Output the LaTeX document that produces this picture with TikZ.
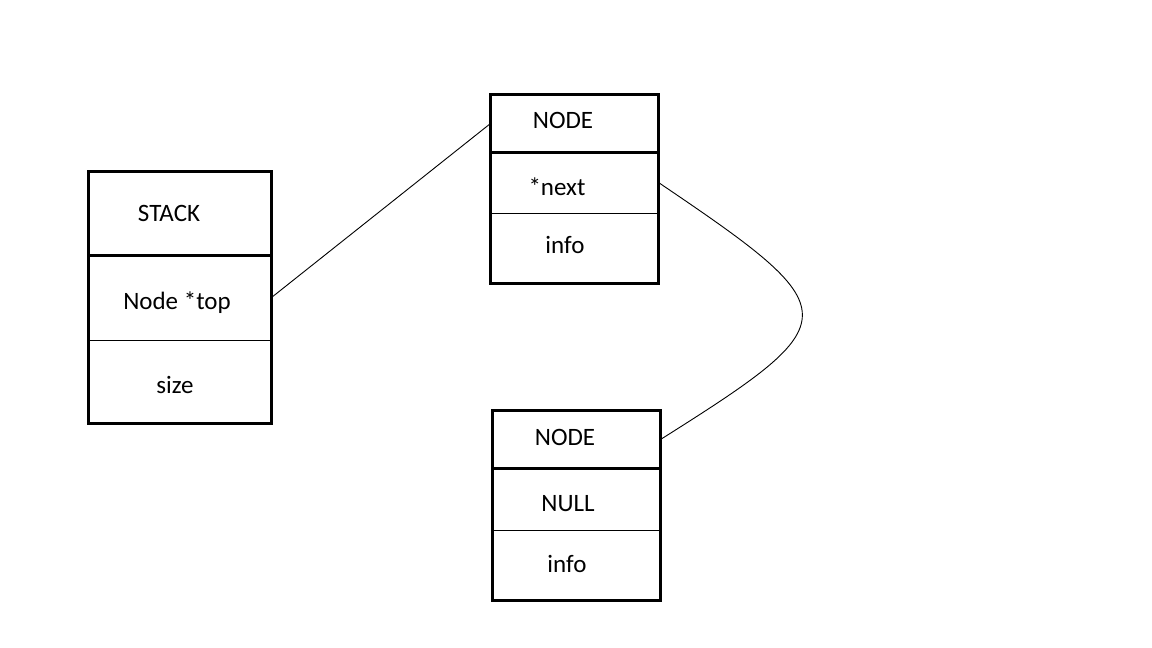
\documentclass[tikz,border=0pt]{standalone}
\usepackage{fontspec}
\setmainfont{Carlito}
\begin{document}
\begin{tikzpicture}[x=1pt,y=-1pt,
  field/.style={draw, line width=1pt, inner sep=0pt, minimum width=#1},
  txt/.style={inner sep=0pt, font=\fontsize{25}{28}\selectfont, text height=0.644em, text depth=0pt, yshift=-4pt},
  frame/.style={line width=3pt},
  link/.style={line width=0.9pt}]
\useasboundingbox[fill=white] (0,0) rectangle (1152,648);

% STACK record
\node[field=182, minimum height=83] (sthead) at (180,213.5) {};
\node[field=182, minimum height=85] (sttop)  at (180,297.5) {};
\node[field=182, minimum height=83] (stsize) at (180,381.5) {};
\draw[frame] (sthead.north west) rectangle (sthead.south east);
\draw[frame] (sthead.north west) rectangle (stsize.south east);
\node[txt] (tstack) at (169,214) {STACK};
\node[txt] (ttop)   at (177,302) {Node *top};
\node[txt] (tsize)  at (175,386) {size};

% first list node
\node[field=167, minimum height=57] (nahead) at (574.5,123.5) {};
\node[field=167, minimum height=61] (nanext) at (574.5,182.5) {};
\node[field=167, minimum height=70] (nainfo) at (574.5,248) {};
\draw[frame] (nahead.north west) rectangle (nahead.south east);
\draw[frame] (nahead.north west) rectangle (nainfo.south east);
\node[txt] (tna)     at (563,121.5) {NODE};
\node[txt] (tnext)   at (557,188) {*next};
\node[txt] (tnainfo) at (565,246) {info};

% second list node
\node[field=167, minimum height=57] (nbhead) at (576.5,439.5) {};
\node[field=167, minimum height=62] (nbnull) at (576.5,499) {};
\node[field=167, minimum height=70] (nbinfo) at (576.5,565) {};
\draw[frame] (nbhead.north west) rectangle (nbhead.south east);
\draw[frame] (nbhead.north west) rectangle (nbinfo.south east);
\node[txt] (tnb)     at (565,438) {NODE};
\node[txt] (tnull)   at (568,504) {NULL};
\node[txt] (tnbinfo) at (567,565) {info};

% pointers
\draw[link] (sttop.east) -- (nahead.west);
\draw[link] (nanext.east) .. controls (850,312) and (850,320) .. (nbhead.east);
\end{tikzpicture}
\end{document}
